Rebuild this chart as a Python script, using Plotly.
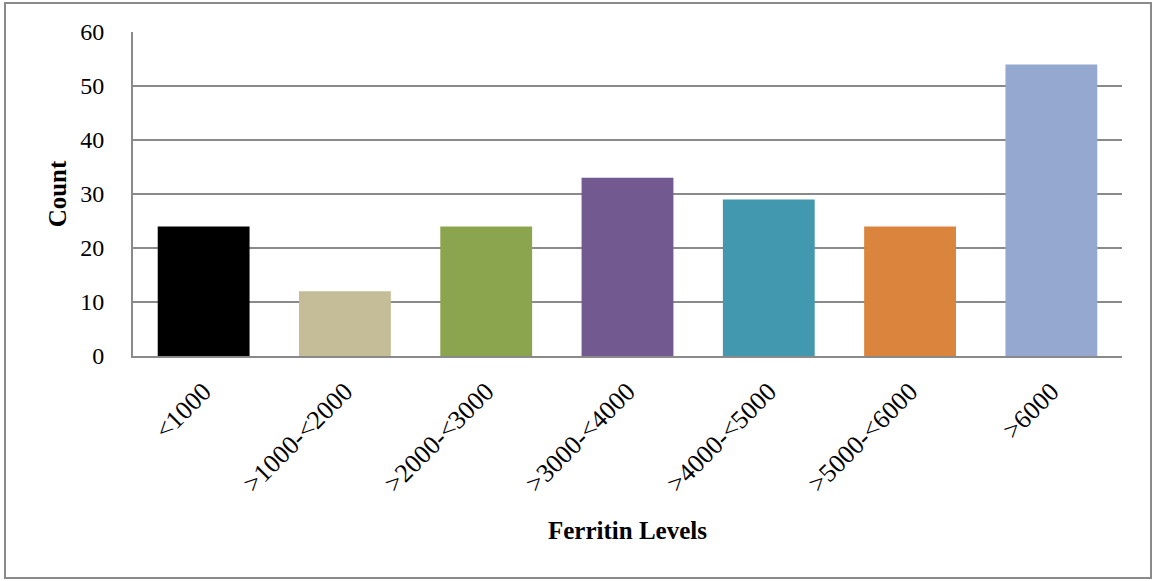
import plotly.graph_objects as go

categories = ["<1000", ">1000-<2000", ">2000-<3000", ">3000-<4000",
              ">4000-<5000", ">5000-<6000", ">6000"]
counts = [24, 12, 24, 33, 29, 24, 54]
bar_colors = ["#000000", "#C4BD97", "#8BA54E", "#725990",
              "#4198AF", "#DB843D", "#94A8D0"]
y_ticks = [0, 10, 20, 30, 40, 50, 60]

W, H = 1152, 581
ML, MR, MT, MB = 133, 30, 32, 225
pw, ph = W - ML - MR, H - MT - MB

def px_x(x):
    return (x - ML) / pw

def px_y(y):
    return (H - MB - y) / ph

serif = "Liberation Serif, DejaVu Serif, serif"

fig = go.Figure(go.Bar(
    x=categories, y=counts, marker=dict(color=bar_colors, line=dict(width=0)),
    width=0.65,
))

fig.update_layout(
    width=W, height=H,
    margin=dict(l=ML, r=MR, t=MT, b=MB),
    paper_bgcolor="white", plot_bgcolor="white",
    font=dict(family=serif, size=24, color="black"),
    showlegend=False,
    xaxis=dict(
        tickangle=-45, showgrid=False, showline=True, linecolor="#8a8a8a",
        linewidth=2, ticks="", tickfont=dict(size=26), ticklabelstandoff=8,
        title=dict(text="<b>Ferritin Levels</b>", font=dict(size=25), standoff=24),
    ),
    yaxis=dict(
        range=[0, 60], tickvals=y_ticks, showgrid=True, gridcolor="#8a8a8a",
        gridwidth=1.5, showline=True, linecolor="#8a8a8a", linewidth=2,
        ticks="", ticklen=0, zeroline=False, tickfont=dict(size=24),
        ticklabelstandoff=22,
        title=dict(text="<b>Count</b>", font=dict(size=25), standoff=6),
    ),
    shapes=[dict(
        type="rect", xref="paper", yref="paper",
        x0=px_x(5), x1=px_x(1151), y0=px_y(578), y1=px_y(3),
        line=dict(color="#8a8a8a", width=2), fillcolor="rgba(0,0,0,0)",
        layer="below",
    )],
)

fig.write_html("out.html")
